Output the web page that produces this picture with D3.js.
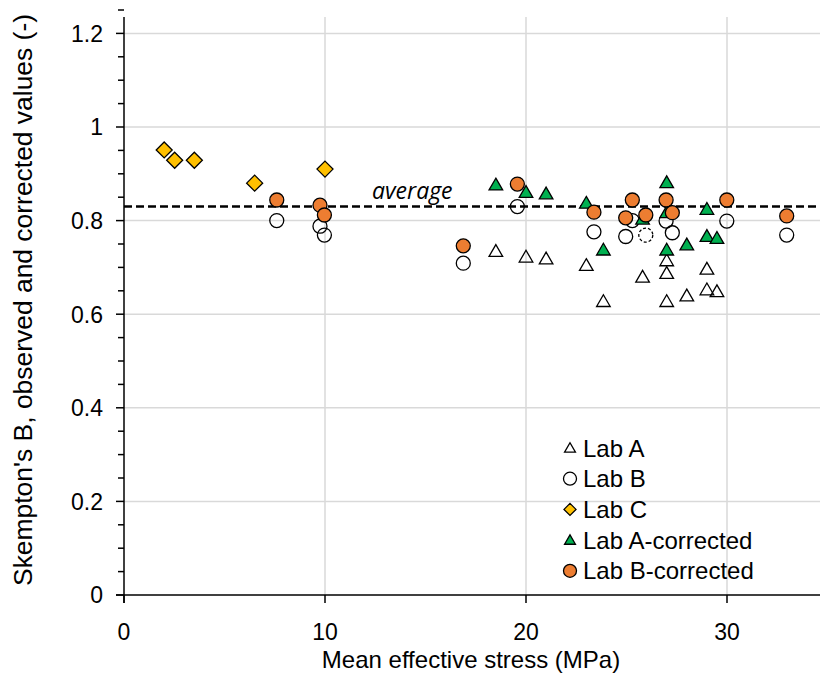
<!DOCTYPE html>
<html>
<head>
<meta charset="utf-8">
<script src="https://cdn.jsdelivr.net/npm/d3@7"></script>
<style>
  body { margin: 0; background: #fff; }
  svg { display: block; font-family: 'Liberation Sans', Arial, sans-serif; }
  .grid line { stroke: #d9d9d9; stroke-width: 1.5; }
  .tick-label { font-size: 23px; fill: #000; }
  .x-title { font-size: 24px; fill: #000; }
  .y-title { font-size: 25px; fill: #000; }
  .legend-text { font-size: 24px; fill: #000; }
  .avg-label { font-family: 'Open Sans', sans-serif; font-style: italic; font-size: 23px; }
</style>
</head>
<body>
<svg id="chart" width="820" height="673"></svg>
<script>
// Skempton's B vs mean effective stress, five lab series.

const labAX = [18.5, 20.0, 21.0, 23.0, 23.85, 25.8, 27.0, 27.0, 27.0, 28.0, 29.0, 29.0, 29.5];
const labAY = [0.734, 0.722, 0.718, 0.704, 0.627, 0.679, 0.714, 0.687, 0.627, 0.639, 0.696, 0.652, 0.648];

const labBX = [7.6, 9.75, 9.97, 16.88, 19.57, 23.38, 24.96, 25.29, 26.97, 27.28, 29.99, 32.97];
const labBY = [0.800, 0.788, 0.769, 0.709, 0.830, 0.776, 0.766, 0.800, 0.799, 0.774, 0.799, 0.769];

// one Lab B point drawn with a dashed outline
const labBDashedX = [25.96];
const labBDashedY = [0.769];

const labCX = [2.0, 2.52, 3.5, 6.5, 10.0];
const labCY = [0.951, 0.929, 0.929, 0.880, 0.910];

const labACorrX = [18.5, 20.0, 21.0, 23.0, 23.85, 25.8, 27.0, 27.0, 27.0, 28.0, 29.0, 29.0, 29.5];
const labACorrY = [0.876, 0.860, 0.857, 0.837, 0.737, 0.803, 0.881, 0.817, 0.737, 0.748, 0.824, 0.766, 0.762];

const labBCorrX = [7.6, 9.75, 9.97, 16.88, 19.57, 23.38, 24.96, 25.29, 25.96, 26.97, 27.28, 29.99, 32.97];
const labBCorrY = [0.844, 0.833, 0.812, 0.746, 0.878, 0.818, 0.806, 0.844, 0.812, 0.844, 0.817, 0.844, 0.810];

const averageB = 0.83;

const xTicks = [0, 10, 20, 30];
const yTicks = [0, 0.2, 0.4, 0.6, 0.8, 1, 1.2];
const legendLabels = ['Lab A', 'Lab B', 'Lab C', 'Lab A-corrected', 'Lab B-corrected'];

const d3 = window.d3;
const svg = d3.select('#chart');

const x = d3.scaleLinear().domain([0, 35]).range([124, 124 + 35 * 20.1]);
const y = d3.scaleLinear().domain([0, 1.2]).range([595, 33.4]);
const yTop = 17;
const xRight = 820;

const zip = (xs, ys) => xs.map((v, i) => ({ x: v, y: ys[i] }));

const symTri = d3.symbol().type(d3.symbolTriangle);

const styles = {
  'Lab A': { shape: 'tri', fill: 'none' },
  'Lab B': { shape: 'circle', fill: 'none' },
  'Lab C': { shape: 'dia', fill: '#FFC000' },
  'Lab A-corrected': { shape: 'tri', fill: '#00B050' },
  'Lab B-corrected': { shape: 'circle', fill: '#ED7D31' }
};

function drawMarker(g, shape, fill, cx, cy, scale, dashed) {
  let el;
  if (shape === 'circle') {
    el = g.append('circle').attr('cx', cx).attr('cy', cy).attr('r', 7 * scale);
  } else if (shape === 'tri') {
    el = g.append('path')
      .attr('d', symTri.size(80 * scale * scale)())
      .attr('transform', `translate(${cx},${cy + 1})`);
  } else {
    const h = 8 * scale;
    el = g.append('path')
      .attr('d', `M0,${-h}L${h},0L0,${h}L${-h},0Z`)
      .attr('transform', `translate(${cx},${cy})`);
  }
  el.attr('fill', fill)
    .attr('stroke', '#000')
    .attr('stroke-width', 1.3);
  if (dashed) el.attr('stroke-dasharray', '3,2');
  return el;
}

// gridlines
const grid = svg.append('g').attr('class', 'grid');
yTicks.filter(v => v > 0).forEach(v => {
  grid.append('line').attr('x1', x(0)).attr('x2', xRight).attr('y1', y(v)).attr('y2', y(v));
});
xTicks.filter(v => v > 0).forEach(v => {
  grid.append('line').attr('x1', x(v)).attr('x2', x(v)).attr('y1', y(0)).attr('y2', yTop);
});

// axes
const axes = svg.append('g').attr('stroke', '#000').attr('stroke-width', 1.5);
axes.append('line').attr('x1', x(0)).attr('x2', x(0)).attr('y1', y(0) + 8).attr('y2', yTop);
axes.append('line').attr('x1', x(0) - 8).attr('x2', xRight).attr('y1', y(0)).attr('y2', y(0));

d3.range(0, 1.2501, 0.05).forEach(v => {
  const major = Math.abs(v * 5 - Math.round(v * 5)) < 1e-6;
  axes.append('line')
    .attr('x1', x(0) - (major ? 8 : 6)).attr('x2', x(0))
    .attr('y1', y(v)).attr('y2', y(v));
});
xTicks.forEach(v => {
  axes.append('line').attr('x1', x(v)).attr('x2', x(v)).attr('y1', y(0)).attr('y2', y(0) + 8);
});

svg.append('g').selectAll('text').data(yTicks).join('text')
  .attr('class', 'tick-label')
  .attr('x', 103)
  .attr('y', d => y(d) + 8.3)
  .attr('text-anchor', 'end')
  .text(d => d3.format('~g')(d));

svg.append('g').selectAll('text').data(xTicks).join('text')
  .attr('class', 'tick-label')
  .attr('x', d => x(d))
  .attr('y', 640)
  .attr('text-anchor', 'middle')
  .text(d => d);

svg.append('text')
  .attr('class', 'x-title')
  .attr('x', 471)
  .attr('y', 668)
  .attr('text-anchor', 'middle')
  .text('Mean effective stress (MPa)');

svg.append('text')
  .attr('class', 'y-title')
  .attr('transform', 'translate(32,300) rotate(-90)')
  .attr('text-anchor', 'middle')
  .attr('textLength', 572)
  .attr('lengthAdjust', 'spacingAndGlyphs')
  .text("Skempton's B, observed and corrected values (-)");

// average line
svg.append('line')
  .attr('x1', x(0)).attr('x2', xRight)
  .attr('y1', y(averageB)).attr('y2', y(averageB))
  .attr('stroke', '#000')
  .attr('stroke-width', 2.5)
  .attr('stroke-dasharray', '8,4');

svg.append('text')
  .attr('class', 'avg-label')
  .attr('x', 372)
  .attr('y', 199)
  .text('average');

// series
const series = [
  ['Lab A', zip(labAX, labAY)],
  ['Lab B', zip(labBX, labBY)],
  ['Lab C', zip(labCX, labCY)],
  ['Lab A-corrected', zip(labACorrX, labACorrY)],
  ['Lab B-corrected', zip(labBCorrX, labBCorrY)]
];

const marks = svg.append('g');
series.forEach(([name, pts]) => {
  const st = styles[name];
  const g = marks.append('g').attr('class', 'series');
  pts.forEach(p => drawMarker(g, st.shape, st.fill, x(p.x), y(p.y), 1, false));
  if (name === 'Lab B') {
    zip(labBDashedX, labBDashedY).forEach(p => drawMarker(g, 'circle', 'none', x(p.x), y(p.y), 1, true));
  }
});

// legend
const legend = svg.append('g').attr('transform', 'translate(570,448)');
legendLabels.forEach((name, i) => {
  const st = styles[name];
  const row = legend.append('g').attr('transform', `translate(0,${i * 30.7})`);
  const s = st.shape === 'circle' ? 0.93 : (st.shape === 'dia' ? 0.75 : 0.8);
  drawMarker(row, st.shape, st.fill === 'none' ? '#fff' : st.fill, 0, 0, s, false);
  row.append('text')
    .attr('class', 'legend-text')
    .attr('x', 13)
    .attr('y', 8.5)
    .text(name);
});
</script>
</body>
</html>
